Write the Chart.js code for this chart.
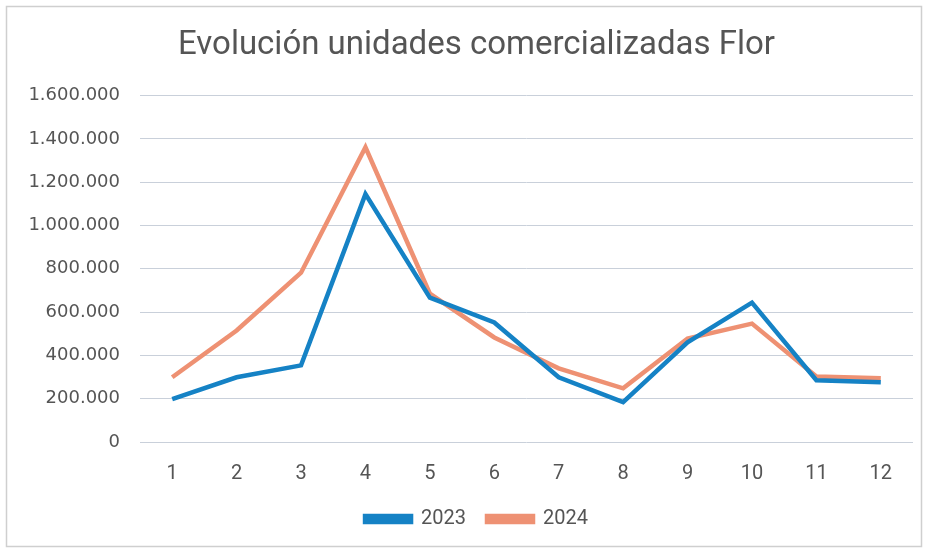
<!DOCTYPE html>
<html><head><meta charset="utf-8">
<script src="https://cdn.jsdelivr.net/npm/chart.js@4/dist/chart.umd.min.js"></script>
<style>html,body{margin:0;padding:0;background:#fff;}#wrap{width:928px;height:553px;position:relative;}</style>
</head><body><div id="wrap"><canvas id="c" width="928" height="553"></canvas></div>
<script>
const titleText = "Evolución unidades comercializadas Flor";
const categories = ["1","2","3","4","5","6","7","8","9","10","11","12"];
const series2023 = [198000, 299000, 354000, 1145000, 667000, 552000, 299000, 184000, 460000, 644000, 285000, 276000];
const series2024 = [299000, 515000, 782000, 1361000, 685000, 483000, 340000, 248000, 478000, 547000, 303000, 294000];
const seriesNames = ["2023", "2024"];
const yTicks = [0, 200000, 400000, 600000, 800000, 1000000, 1200000, 1400000, 1600000];

const fmt = v => v.toLocaleString('de-DE');
const framePlugin = {
  id: 'frame',
  beforeDraw(chart) {
    const ctx = chart.ctx;
    ctx.save();
    ctx.fillStyle = '#fff';
    ctx.fillRect(0,0,chart.width,chart.height);
    ctx.strokeStyle = '#cfcfcf';
    ctx.lineWidth = 1.5;
    ctx.strokeRect(6.5, 6.5, chart.width-13, chart.height-13);
    ctx.restore();
  },
  afterLayout(chart) {
    const d = 15;
    [chart.titleBlock, chart.legend].forEach(b => { if (b) { b.left += d; b.right += d; } });
  }
};
new Chart(document.getElementById('c'), {
  type: 'line',
  data: {
    labels: categories,
    datasets: [
      {label: seriesNames[0], data: series2023, borderColor: '#1582c5', backgroundColor: '#1582c5', borderWidth: 4.5, pointRadius: 0, tension: 0},
      {label: seriesNames[1], data: series2024, borderColor: '#ee9173', backgroundColor: '#ee9173', borderWidth: 4.5, pointRadius: 0, tension: 0}
    ]
  },
  plugins: [framePlugin],
  options: {
    responsive: false,
    animation: false,
    layout: {padding: {left: 10, right: 15, top: 26, bottom: 14}},
    plugins: {
      title: {display: true, text: titleText, color: '#555', font: {family: "Roboto, sans-serif", size: 33, weight: 'normal'}, padding: {top: 0, bottom: 30}},
      legend: {position: 'bottom', labels: {color: '#555', boxWidth: 46, boxHeight: 6, padding: 21, font: {family: "Roboto, sans-serif", size: 20}}},
      tooltip: {enabled: false}
    },
    scales: {
      x: {
        offset: true,
        grid: {display: false, drawTicks: false},
        border: {display: false},
        afterFit: ax => { ax.height = 46; },
        ticks: {color: '#555', padding: 20, font: {family: "Roboto, sans-serif", size: 20}}
      },
      y: {
        min: 0, max: 1600000,
        afterBuildTicks: ax => { ax.ticks = yTicks.map(v => ({value: v})); },
        afterFit: ax => { ax.width = 130; },
        grid: {color: '#c9d0da', lineWidth: 1, drawTicks: false},
        border: {display: false},
        ticks: {color: '#555', padding: 20, callback: v => fmt(v), font: {family: "'DejaVu Sans', sans-serif", size: 18}}
      }
    }
  }
});
</script></body></html>
